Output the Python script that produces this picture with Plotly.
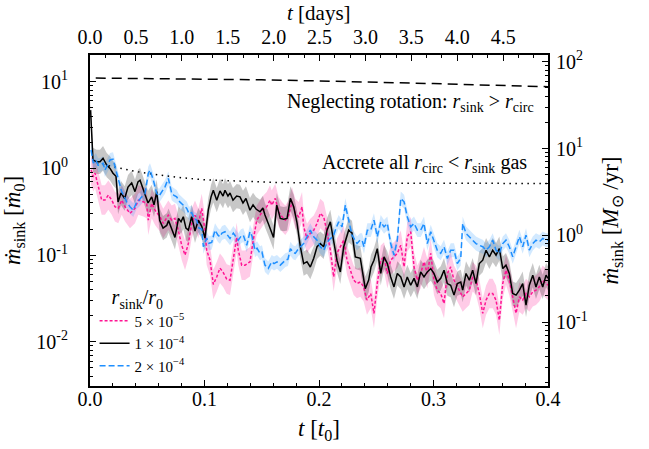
import numpy as np
import plotly.graph_objects as go

# Time in units of t0; accretion rates in units of mdot0
t_5e5 = [0.0009, 0.0029, 0.0044, 0.0072, 0.0102, 0.0131, 0.016, 0.019, 0.0218, 0.0247, 0.0277, 0.0306,
         0.0349, 0.0393, 0.0422, 0.0466, 0.0495, 0.0509, 0.0539, 0.0568, 0.0611, 0.064, 0.0684, 0.0714,
         0.0742, 0.0771, 0.0801, 0.083, 0.0859, 0.0888, 0.0917, 0.0946, 0.0976, 0.1004, 0.1019, 0.1048,
         0.1077, 0.1107, 0.1135, 0.1164, 0.1194, 0.1223, 0.1252, 0.1281, 0.1295, 0.1325, 0.1354, 0.1397,
         0.1426, 0.1456, 0.1485, 0.1514, 0.1543, 0.1572, 0.1587, 0.1618, 0.1648, 0.1677, 0.1706, 0.1735,
         0.1764, 0.1793, 0.1823, 0.1852, 0.1866, 0.1895, 0.1924, 0.1954, 0.1983, 0.2011, 0.2041, 0.207,
         0.2099, 0.2128, 0.2157, 0.2186, 0.2216, 0.2245, 0.2273, 0.2303, 0.2332, 0.2361, 0.239, 0.2419,
         0.2452, 0.248, 0.2509, 0.2539, 0.2568, 0.2597, 0.2626, 0.2655, 0.2684, 0.2714, 0.2743, 0.2771,
         0.2801, 0.283, 0.2859, 0.2888, 0.2917, 0.2946, 0.2976, 0.3004, 0.3033, 0.3063, 0.3092, 0.3121,
         0.315, 0.3179, 0.3208, 0.3226, 0.3255, 0.3284, 0.3313, 0.3342, 0.3371, 0.34, 0.343, 0.3459,
         0.3488, 0.3517, 0.3546, 0.3575, 0.3605, 0.3633, 0.3662, 0.3692, 0.3721, 0.375, 0.3779, 0.3808,
         0.3837, 0.3867, 0.3895, 0.3924, 0.3954, 0.3983, 0.4]
mdot_5e5 = [0.956, 0.80, 0.88, 0.613, 0.431, 0.431, 0.492, 0.431, 0.361, 0.346, 0.431, 0.361,
            0.303, 0.346, 0.431, 0.412, 0.395, 0.253, 0.395, 0.33, 0.277, 0.232, 0.289, 0.253,
            0.265, 0.194, 0.13, 0.10, 0.136, 0.232, 0.289, 0.232, 0.346, 0.194, 0.114, 0.0875,
            0.046, 0.0562, 0.0708, 0.063, 0.053, 0.0515, 0.0875, 0.16, 0.114, 0.0767, 0.0767, 0.0837,
            0.149, 0.253, 0.289, 0.33, 0.361, 0.431, 0.377, 0.451, 0.316, 0.277, 0.253, 0.289,
            0.412, 0.303, 0.277, 0.361, 0.212, 0.156, 0.178, 0.194, 0.232, 0.303, 0.277, 0.186,
            0.114, 0.0562, 0.105, 0.125, 0.149, 0.0875, 0.0672, 0.0515, 0.0472, 0.049, 0.0431, 0.0303,
            0.0361, 0.0213, 0.0472, 0.0875, 0.0955, 0.0615, 0.0875, 0.0955, 0.105, 0.13, 0.0733, 0.163,
            0.186, 0.0733, 0.0515, 0.0615, 0.0837, 0.0615, 0.105, 0.0515, 0.0395, 0.0361, 0.0277, 0.0615,
            0.0733, 0.0515, 0.0431, 0.0395, 0.033, 0.0361, 0.0395, 0.0562, 0.0515, 0.0361, 0.0213, 0.0303,
            0.0361, 0.0361, 0.0303, 0.0178, 0.0472, 0.0672, 0.0515, 0.033, 0.0213, 0.033, 0.0303, 0.0361,
            0.033, 0.0378, 0.0395, 0.0431, 0.0515, 0.0472, 0.0451]

t_1e4 = [0.0005, 0.0026, 0.0058, 0.0087, 0.0114, 0.0146, 0.0175, 0.0201, 0.0227, 0.0245, 0.0271, 0.0303,
         0.0332, 0.0364, 0.0393, 0.0419, 0.0437, 0.0478, 0.0507, 0.0539, 0.0559, 0.0583, 0.0609, 0.0638,
         0.067, 0.0686, 0.0714, 0.0742, 0.0773, 0.0795, 0.0815, 0.0838, 0.0859, 0.0888, 0.0917, 0.0946,
         0.0976, 0.1004, 0.1033, 0.1057, 0.1077, 0.1107, 0.1135, 0.1162, 0.1179, 0.1205, 0.1223, 0.1249,
         0.1281, 0.131, 0.1336, 0.1362, 0.1397, 0.1424, 0.145, 0.1485, 0.151, 0.1528, 0.1557, 0.1572,
         0.1603, 0.1631, 0.1662, 0.1692, 0.1721, 0.175, 0.1779, 0.1808, 0.1837, 0.1866, 0.1895, 0.1924,
         0.1954, 0.1983, 0.2011, 0.2041, 0.207, 0.2099, 0.2128, 0.2157, 0.2186, 0.2216, 0.2259, 0.2288,
         0.2317, 0.2361, 0.2404, 0.2434, 0.2454, 0.248, 0.2509, 0.2539, 0.2568, 0.2597, 0.2626, 0.2655,
         0.2684, 0.2714, 0.2743, 0.2771, 0.2801, 0.283, 0.2859, 0.2888, 0.2917, 0.2946, 0.2976, 0.3004,
         0.3033, 0.3063, 0.3092, 0.3121, 0.315, 0.3179, 0.3208, 0.3238, 0.3255, 0.3284, 0.3313, 0.3342,
         0.3371, 0.34, 0.343, 0.3459, 0.3488, 0.3517, 0.3546, 0.3575, 0.3605, 0.3633, 0.3662, 0.3692,
         0.3721, 0.375, 0.3779, 0.3808, 0.3837, 0.3867, 0.3895, 0.3924, 0.3954, 0.3983, 0.4]
mdot_1e4 = [4.7, 1.25, 1.19, 1.19, 1.31, 1.09, 1.0, 0.88, 0.81, 0.41, 0.52, 0.45,
            0.61, 0.68, 0.54, 0.70, 0.73, 0.52, 0.40, 0.47, 0.38, 0.54, 0.25, 0.205,
            0.22, 0.25, 0.205, 0.16, 0.265, 0.242, 0.277, 0.205, 0.194, 0.277, 0.19, 0.253,
            0.215, 0.157, 0.33, 0.47, 0.56, 0.43, 0.55, 0.48, 0.56, 0.48, 0.52, 0.43,
            0.48, 0.47, 0.40, 0.45, 0.33, 0.38, 0.34, 0.316, 0.35, 0.29, 0.232, 0.205,
            0.16, 0.377, 0.265, 0.26, 0.265, 0.451, 0.361, 0.235, 0.125, 0.080, 0.084, 0.073,
            0.092, 0.125, 0.136, 0.125, 0.194, 0.242, 0.149, 0.0875, 0.064, 0.125, 0.194, 0.18,
            0.0955, 0.092, 0.041, 0.0515, 0.073, 0.0875, 0.119, 0.0615, 0.0955, 0.080, 0.056, 0.043,
            0.0615, 0.056, 0.043, 0.056, 0.045, 0.054, 0.043, 0.064, 0.056, 0.064, 0.070, 0.0615,
            0.049, 0.054, 0.067, 0.047, 0.045, 0.0346, 0.047, 0.049, 0.0395, 0.0615, 0.0515, 0.067,
            0.047, 0.080, 0.0875, 0.114, 0.0955, 0.114, 0.100, 0.119, 0.070, 0.0767, 0.0615, 0.0361,
            0.0346, 0.0395, 0.047, 0.0265, 0.045, 0.0588, 0.043, 0.056, 0.043, 0.0588, 0.054]

t_2e4 = [0.0009, 0.0029, 0.0052, 0.007, 0.0087, 0.0114, 0.0131, 0.0157, 0.0175, 0.0201, 0.0233, 0.0253,
         0.0277, 0.0297, 0.032, 0.0349, 0.0378, 0.0408, 0.0428, 0.0452, 0.048, 0.0509, 0.0524, 0.0553,
         0.0583, 0.0603, 0.0626, 0.0655, 0.0684, 0.0714, 0.0734, 0.0757, 0.0777, 0.0801, 0.0821, 0.0845,
         0.0865, 0.0888, 0.0908, 0.0932, 0.0952, 0.0976, 0.099, 0.1019, 0.1039, 0.1063, 0.1092, 0.1118,
         0.1135, 0.1153, 0.1179, 0.1205, 0.1223, 0.1252, 0.1275, 0.1295, 0.1319, 0.1339, 0.1369, 0.1397,
         0.1415, 0.1441, 0.1459, 0.1485, 0.1502, 0.1528, 0.1557, 0.1587, 0.1607, 0.1633, 0.1662, 0.1686,
         0.1706, 0.1729, 0.175, 0.1773, 0.1793, 0.1817, 0.1837, 0.1866, 0.1895, 0.1924, 0.1954, 0.1983,
         0.2011, 0.2041, 0.2061, 0.2085, 0.2105, 0.2128, 0.2149, 0.2172, 0.2201, 0.223, 0.2259, 0.2288,
         0.2314, 0.2332, 0.2358, 0.2376, 0.2393, 0.2422, 0.2452, 0.248, 0.2509, 0.2539, 0.2568, 0.2597,
         0.2626, 0.2655, 0.2684, 0.2714, 0.2743, 0.2771, 0.2801, 0.283, 0.2859, 0.2888, 0.2917, 0.2946,
         0.2976, 0.3004, 0.3033, 0.3063, 0.3092, 0.3121, 0.315, 0.3179, 0.3208, 0.3238, 0.3255, 0.3284,
         0.3313, 0.3342, 0.3371, 0.34, 0.343, 0.3459, 0.3488, 0.3517, 0.3546, 0.3575, 0.3605, 0.3633,
         0.3662, 0.3692, 0.3721, 0.375, 0.3779, 0.3808, 0.3837, 0.3867, 0.3895, 0.3924, 0.3954, 0.3983, 0.4]
mdot_2e4 = [1.63, 1.15, 1.25, 1.09, 1.09, 1.15, 0.956, 1.15, 1.25, 1.28, 0.883, 0.68,
            0.537, 0.48, 0.412, 0.361, 0.33, 0.412, 0.431, 0.47, 0.51, 0.876, 0.956, 0.733,
            0.515, 0.48, 0.537, 0.613, 0.767, 0.515, 0.49, 0.47, 0.42, 0.395, 0.37, 0.346,
            0.30, 0.31, 0.265, 0.253, 0.205, 0.20, 0.125, 0.157, 0.137, 0.14, 0.194, 0.17,
            0.163, 0.18, 0.186, 0.165, 0.156, 0.18, 0.165, 0.149, 0.165, 0.17, 0.13, 0.186,
            0.165, 0.114, 0.12, 0.105, 0.108, 0.0767, 0.0703, 0.0837, 0.08, 0.0837, 0.0767, 0.082,
            0.0875, 0.09, 0.119, 0.108, 0.105, 0.117, 0.125, 0.136, 0.163, 0.194, 0.163, 0.149,
            0.125, 0.114, 0.13, 0.149, 0.157, 0.17, 0.205, 0.242, 0.212, 0.377, 0.253, 0.17,
            0.149, 0.136, 0.149, 0.149, 0.125, 0.194, 0.194, 0.253, 0.163, 0.242, 0.212, 0.232,
            0.136, 0.100, 0.149, 0.451, 0.412, 0.277, 0.212, 0.232, 0.194, 0.194, 0.232, 0.136,
            0.186, 0.149, 0.114, 0.105, 0.125, 0.0916, 0.114, 0.114, 0.0802, 0.0916, 0.232, 0.178,
            0.163, 0.149, 0.136, 0.13, 0.125, 0.114, 0.125, 0.149, 0.114, 0.105, 0.136, 0.149,
            0.125, 0.0955, 0.125, 0.163, 0.125, 0.17, 0.114, 0.136, 0.149, 0.142, 0.156, 0.149, 0.149]

# Analytic reference curves
t_norot = [0.005, 0.05, 0.1, 0.15, 0.2, 0.25, 0.3, 0.35, 0.4]
mdot_norot = [11.0, 10.9, 10.7, 10.5, 10.2, 9.9, 9.5, 9.1, 8.75]
t_circ = [0.006, 0.02, 0.04, 0.06, 0.08, 0.1, 0.13, 0.16, 0.2, 0.3, 0.4]
mdot_circ = [1.15, 1.05, 0.92, 0.84, 0.78, 0.74, 0.71, 0.69, 0.68, 0.67, 0.67]

# Half-width of the scatter envelope around each run, in dex
spread_5e5 = 0.17
spread_1e4 = 0.14
spread_2e4 = 0.08

labels = ["5 × 10<sup>−5</sup>", "1 × 10<sup>−4</sup>", "2 × 10<sup>−4</sup>"]

# Unit conversions for the secondary axes
T0_IN_DAYS = 12.47
MDOT0_IN_MSUN_YR = 5.9

FONT = "Liberation Serif"
xmax = 0.4
ymin, ymax = 0.0031, 20.3

runs = [
    (t_5e5, mdot_5e5, spread_5e5, "#ff1493", "rgba(255,20,147,0.22)", "3px,2px", labels[0]),
    (t_1e4, mdot_1e4, spread_1e4, "#000000", "rgba(0,0,0,0.22)", "solid", labels[1]),
    (t_2e4, mdot_2e4, spread_2e4, "#1e8fff", "rgba(30,143,255,0.2)", "6px,3px", labels[2]),
]

fig = go.Figure()

# Scatter envelopes
for t, m, s, col, fillcol, dash, name in runs:
    m = np.asarray(m)
    fig.add_trace(go.Scatter(x=t, y=m * 10 ** (-s), mode="lines", line=dict(width=0),
                             showlegend=False, hoverinfo="skip"))
    fig.add_trace(go.Scatter(x=t, y=m * 10 ** s, mode="lines", line=dict(width=0),
                             fill="tonexty", fillcolor=fillcol, showlegend=False, hoverinfo="skip"))

# Reference curves
fig.add_trace(go.Scatter(x=t_norot, y=mdot_norot, mode="lines", showlegend=False,
                         line=dict(color="black", width=1.5, dash="10px,6px")))
fig.add_trace(go.Scatter(x=t_circ, y=mdot_circ, mode="lines", showlegend=False,
                         line=dict(color="black", width=1.5, dash="1.5px,4.5px")))

# Simulation runs
for t, m, s, col, fillcol, dash, name in runs:
    fig.add_trace(go.Scatter(x=t, y=m, mode="lines", name=name,
                             line=dict(color=col, width=1.5, dash=dash)))

# The fiducial run expressed in physical units, so the days / Msun/yr axes are drawn
fig.add_trace(go.Scatter(x=np.asarray(t_1e4) * T0_IN_DAYS,
                         y=np.asarray(mdot_1e4) * MDOT0_IN_MSUN_YR,
                         xaxis="x2", yaxis="y2", mode="lines", line=dict(width=0),
                         opacity=0, showlegend=False, hoverinfo="skip"))

ytick_major = [1e-2, 1e-1, 1, 10]
ytick_text = ["10<sup>-2</sup>", "10<sup>-1</sup>", "10<sup>0</sup>", "10<sup>1</sup>"]
ytick_minor = [k * 10.0 ** e for e in range(-3, 2) for k in range(2, 10)]
y2tick_major = [1e-1, 1, 10, 100]
y2tick_text = ["10<sup>-1</sup>", "10<sup>0</sup>", "10<sup>1</sup>", "10<sup>2</sup>"]
y2tick_minor = [k * 10.0 ** e for e in range(-2, 3) for k in range(2, 10)]

TICK_SIZE = 20
TITLE_SIZE = 23

axis_common = dict(showline=True, linecolor="black", linewidth=2, ticks="inside",
                   tickcolor="black", tickwidth=1, ticklen=6, showgrid=False, zeroline=False,
                   automargin=False,
                   tickfont=dict(family=FONT, size=TICK_SIZE, color="black"))

fig.update_layout(
    width=649, height=449,
    margin=dict(l=90, r=101, t=55, b=63),
    paper_bgcolor="white", plot_bgcolor="white",
    font=dict(family=FONT, size=17, color="black"),
    xaxis=dict(range=[0, xmax], tickvals=[0, 0.1, 0.2, 0.3, 0.4], tickformat=".1f",
               ticklabelstandoff=-6,
               minor=dict(dtick=0.02, ticks="inside", ticklen=3, tickcolor="black"),
               **axis_common),
    xaxis2=dict(range=[0, xmax * T0_IN_DAYS], overlaying="x", side="top", anchor="y",
                dtick=0.5, tick0=0, tickformat=".1f", ticklabelstandoff=1,
                minor=dict(dtick=1 / 6, tick0=0, ticks="inside", ticklen=3, tickcolor="black"),
                **axis_common),
    yaxis=dict(type="log", range=[np.log10(ymin), np.log10(ymax)],
               tickvals=ytick_major, ticktext=ytick_text, ticklabelstandoff=16,
               minor=dict(tickvals=ytick_minor, ticks="inside", ticklen=3, tickcolor="black"),
               title=dict(text="<i>m\u0307</i><sub>sink</sub> [<i>m\u0307</i><sub>0</sub>]",
                          font=dict(family=FONT, size=TITLE_SIZE)),
               **axis_common),
    yaxis2=dict(type="log", overlaying="y", side="right", anchor="x",
                range=[np.log10(ymin * MDOT0_IN_MSUN_YR), np.log10(ymax * MDOT0_IN_MSUN_YR)],
                tickvals=y2tick_major, ticktext=y2tick_text, ticklabelstandoff=2,
                minor=dict(tickvals=y2tick_minor, ticks="inside", ticklen=3, tickcolor="black"),
                title=dict(text="<i>m\u0307</i><sub>sink</sub> [<i>M</i><sub>\u2299</sub> /yr]",
                           font=dict(family=FONT, size=TITLE_SIZE)),
                **axis_common),
    legend=dict(x=0.01, y=0.325, xanchor="left", yanchor="top", bgcolor="rgba(0,0,0,0)",
                font=dict(family=FONT, size=15), tracegroupgap=0, traceorder="normal",
                itemwidth=30,
                title=dict(text="   <i>r</i><sub>sink</sub>/<i>r</i><sub>0</sub>",
                           font=dict(family=FONT, size=20), side="top")),
    annotations=[
        # Time-axis titles (bottom in t0, top in days)
        dict(xref="paper", yref="paper", x=0.5, y=-0.133, xanchor="center", yanchor="middle",
             showarrow=False, font=dict(family=FONT, size=TITLE_SIZE),
             text="<i>t</i> [<i>t</i><sub>0</sub>]"),
        dict(xref="paper", yref="paper", x=0.5, y=1.128, xanchor="center", yanchor="middle",
             showarrow=False, font=dict(family=FONT, size=21),
             text="<i>t</i> [days]"),
        dict(xref="paper", yref="paper", x=0.974, y=0.855, xanchor="right", yanchor="middle",
             showarrow=False, font=dict(family=FONT, size=20),
             text="Neglecting rotation: <i>r</i><sub>sink</sub> > <i>r</i><sub>circ</sub>"),
        dict(xref="paper", yref="paper", x=0.958, y=0.672, xanchor="right", yanchor="middle",
             showarrow=False, font=dict(family=FONT, size=20),
             text="Accrete all <i>r</i><sub>circ</sub> < <i>r</i><sub>sink</sub> gas"),
    ],
)

fig.write_html("out.html")
